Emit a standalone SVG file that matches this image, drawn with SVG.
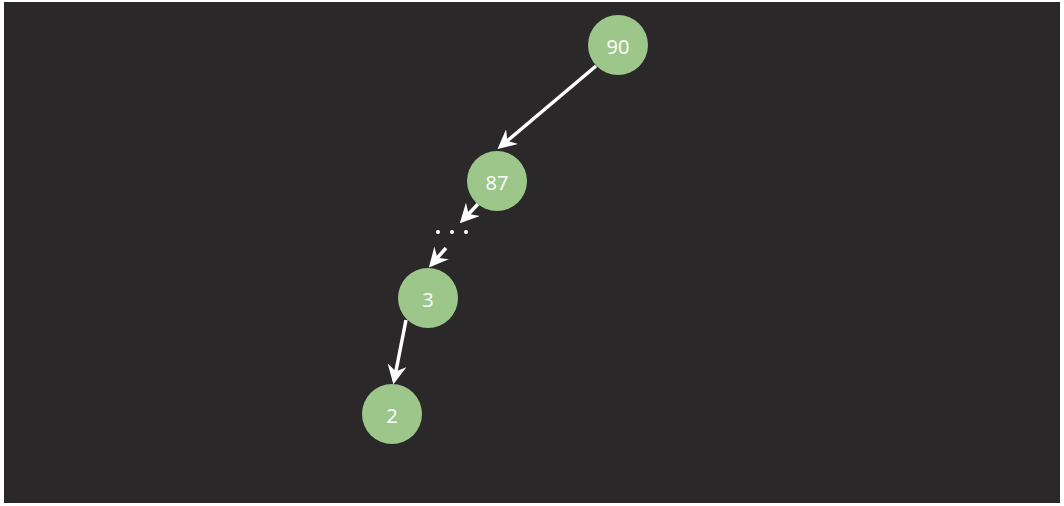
<svg xmlns="http://www.w3.org/2000/svg" width="1064" height="506" viewBox="0 0 1064 506">
<defs>
<style>
.node circle{fill:#9dc78a}
.node text{fill:#ffffff;font-family:"Open Sans","Liberation Sans",sans-serif;font-size:20px;text-anchor:middle;dominant-baseline:central}
.edge{stroke:#ffffff;stroke-width:3.5;fill:none;marker-end:url(#arr)}
.dot{fill:#ffffff}
</style>
<marker id="arr" viewBox="0 0 12 12" refX="10" refY="6" markerWidth="5.5" markerHeight="5.5" orient="auto" markerUnits="strokeWidth">
<path d="M0,0 L12,6 L0,12 L4,6 Z" fill="#ffffff"/>
</marker>
</defs>
<rect width="1064" height="506" fill="#ffffff"/>
<rect x="4" y="2" width="1056" height="501" fill="#2a2829"/>
<g id="connectors">
<line class="edge" x1="596" y1="66" x2="500" y2="147"/>
<line class="edge" x1="478" y1="204" x2="462" y2="221"/>
<line class="edge" x1="446" y1="248" x2="431" y2="265"/>
<line class="edge" x1="406" y1="320" x2="394" y2="381"/>
</g>
<g id="ellipsis">
<circle class="dot" cx="438" cy="232" r="2"/>
<circle class="dot" cx="452" cy="232" r="2"/>
<circle class="dot" cx="466" cy="232" r="2"/>
</g>
<g id="n90" class="node"><circle cx="618" cy="45" r="30"/><text x="618" y="46">90</text></g>
<g id="n87" class="node"><circle cx="497" cy="181" r="30"/><text x="497" y="182">87</text></g>
<g id="n3" class="node"><circle cx="428" cy="298" r="30"/><text x="428" y="299">3</text></g>
<g id="n2" class="node"><circle cx="392" cy="414" r="30"/><text x="392" y="415">2</text></g>
</svg>
